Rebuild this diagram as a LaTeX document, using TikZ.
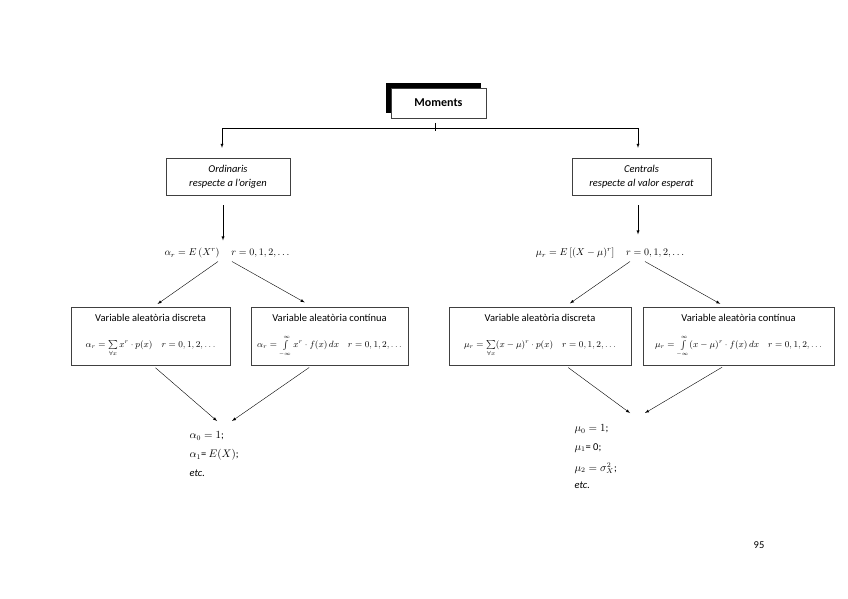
\documentclass[tikz,border=0pt]{standalone}
\usepackage{amsmath, amssymb}
\usepackage{fontspec}
\setmainfont{Carlito}
\usetikzlibrary{positioning,arrows,shadows}
\tikzset{
	>=latex,
	titol/.style={
		rectangle,
		draw=black!75, thin,
		fill=white,
		drop shadow={shadow xshift=-5pt, shadow yshift=5pt, fill=black, opacity=1},
		minimum width=95pt,
		minimum height=30pt,
		font=\fontsize{12}{14}\selectfont\bfseries},
	tipus/.style={
		rectangle,
		draw=black!75, thin,
		minimum height=37pt,
		align=center,
		font=\fontsize{10.5}{14}\selectfont\itshape},
	varbox/.style={
		rectangle,
		draw=black!75, thin,
		minimum height=58pt,
		inner sep=2pt,
		align=center,
		font=\fontsize{10.5}{12}\selectfont},
	formula/.style={font=\fontsize{10}{12}\selectfont},
	resultat/.style={align=left, anchor=north west, font=\fontsize{10.5}{19}\selectfont},
	fletxa/.style={draw, thin, ->},
}
\newcommand{\infint}{\int\limits_{\scriptscriptstyle -\infty}^{\scriptscriptstyle \infty}}

\begin{document}
\begin{tikzpicture}[x=1pt, y=-1pt]
	\useasboundingbox (0,0) rectangle (848,599);
	% arrel
	\node[titol] (M) at (438.5,103) {Moments};
	\coordinate (B) at (435,128);
	\draw (435,123) -- (435,131);
	% tipus de moments
	\node[tipus, minimum width=124pt] (O) at (228,176.5) {Ordinaris\\respecte a l'origen};
	\node[tipus, minimum width=139pt] (C) at (641.5,176.5) {Centrals\\respecte al valor esperat};
	\draw[fletxa, shorten >=10pt] (B) -| ([xshift=-6pt]O.north);
	\draw[fletxa, shorten >=10pt] (B) -| ([xshift=-3.5pt]C.north);
	% definicions
	\node[formula] (FA) at (227,253) {$\alpha_r = E\left(X^r\right)\quad r = 0,1,2,\ldots$};
	\node[formula] (FM) at (610,253) {$\mu_r = E\left[(X-\mu)^r\right]\quad r = 0,1,2,\ldots$};
	\draw[fletxa, shorten <=10pt, shorten >=4pt] ([xshift=-5pt]O.south) -- ([xshift=-5pt]O.south |- FA.north);
	\draw[fletxa, shorten <=10pt, shorten >=10pt] ([xshift=-3.5pt]C.south) -- ([xshift=-3.5pt]C.south |- FM.north);
	% variables
	\node[varbox, minimum width=159pt] (DA) at (150.5,336) {Variable aleatòria discreta\\[12pt]
		\small$\vphantom{\infint}\alpha_r = \sum\limits_{\forall x} x^r\cdot p(x)\quad r=0,1,2,\ldots$};
	\node[varbox, minimum width=157pt] (CA) at (329.5,336) {Variable aleatòria contínua\\[12pt]
		\small$\alpha_r = \infint x^r\cdot f(x)\,dx\quad r=0,1,2,\ldots$};
	\node[varbox, minimum width=182pt] (DM) at (540,336) {Variable aleatòria discreta\\[12pt]
		\small$\vphantom{\infint}\mu_r = \sum\limits_{\forall x} (x-\mu)^r\cdot p(x)\quad r=0,1,2,\ldots$};
	\node[varbox, minimum width=191pt] (CM) at (738.5,336) {Variable aleatòria contínua\\[12pt]
		\small$\mu_r = \infint (x-\mu)^r\cdot f(x)\,dx\quad r=0,1,2,\ldots$};
	\draw[fletxa, shorten >=5pt] ([xshift=-9pt]FA.south) -- ([xshift=3pt]DA.north);
	\draw[fletxa, shorten >=9pt] ([xshift=5pt]FA.south) -- ([xshift=-17pt]CA.north);
	\draw[fletxa, shorten >=6pt] ([xshift=20pt]FM.south) -- ([xshift=25pt]DM.north);
	\draw[fletxa, shorten >=6pt] ([xshift=35pt]FM.south) -- ([xshift=-13pt]CM.north);
	% resultats
	\node[resultat] (RA) at (186,428) {$\alpha_0 = 1$;\\ $\alpha_1$= $E(X)$;\\ \textit{etc.}};
	\node[resultat] (RM) at (571,421) {$\mu_0 = 1$;\\[-0.5pt] $\mu_1$= 0;\\[2pt] $\mu_2 = \sigma_X^2$;\\[-2pt] \textit{etc.}};
	\coordinate (PA1) at (217,421);
	\coordinate (PA2) at (232,421);
	\coordinate (PM1) at (630,413);
	\coordinate (PM2) at (645,413);
	\draw[fletxa, shorten <=4pt] ([xshift=2pt]DA.south) -- (PA1);
	\draw[fletxa, shorten <=4pt] ([xshift=-17pt]CA.south) -- (PA2);
	\draw[fletxa, shorten <=4pt] ([xshift=25pt]DM.south) -- (PM1);
	\draw[fletxa, shorten <=4pt] ([xshift=-13pt]CM.south) -- (PM2);
	% pagina
	\node[resultat, anchor=center] (pag) at (759,545) {95};
\end{tikzpicture}
\end{document}
